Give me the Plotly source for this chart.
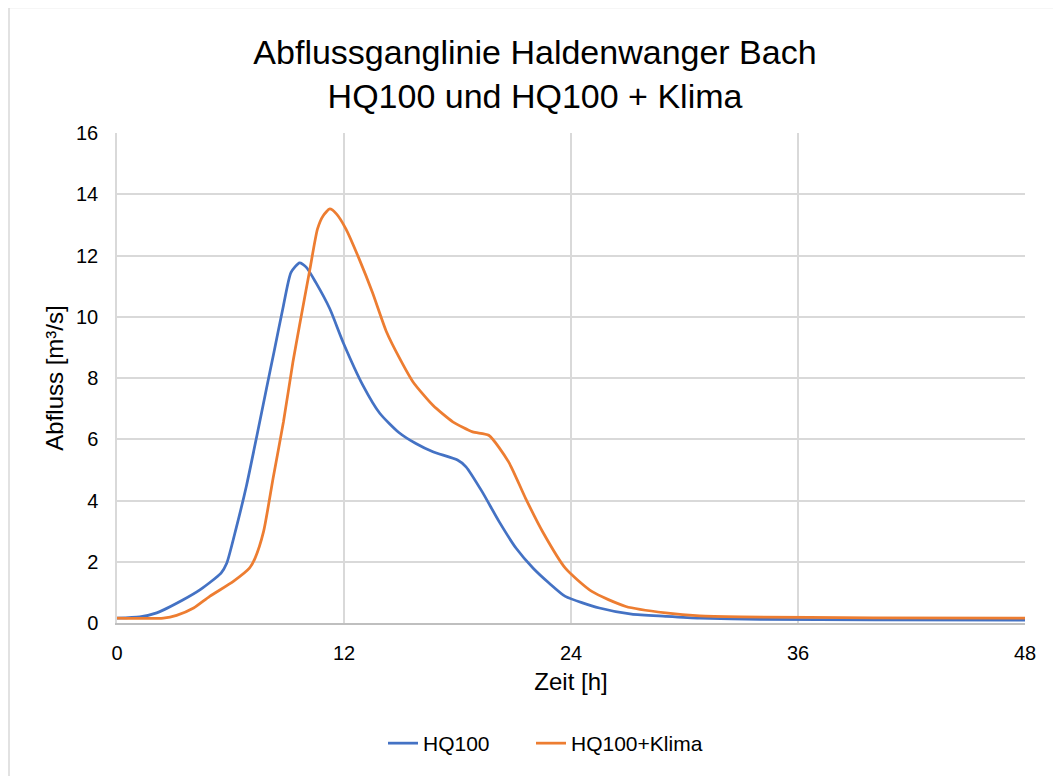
import plotly.graph_objects as go

# HQ100
t_hq = [0, 1.2, 2.1, 3.5, 4.4, 5.5, 5.8, 6.3, 6.85, 7.4, 7.9, 8.3, 8.8, 9.2, 9.65, 10.0, 10.5,
        11.25, 11.95, 13.0, 13.9, 14.9, 15.8, 16.7, 18.0, 18.45, 19.3, 20.2, 21.1, 22.0, 22.85,
        23.7, 25.5, 27.2, 29.0, 30.8, 34.0, 40.0, 48.0]
q_hq = [0.16, 0.2, 0.33, 0.76, 1.09, 1.63, 1.95, 3.1, 4.5, 6.13, 7.65, 8.85, 10.37, 11.45, 11.76,
        11.62, 11.13, 10.26, 9.17, 7.76, 6.84, 6.22, 5.86, 5.59, 5.32, 5.1, 4.29, 3.31, 2.44, 1.79,
        1.3, 0.87, 0.49, 0.29, 0.22, 0.16, 0.12, 0.1, 0.09]

# HQ100 + Klima
t_kl = [0, 2.45, 3.15, 4.05, 4.9, 6.15, 7.0, 7.3, 7.75, 8.25, 8.8, 9.3, 9.65, 10.2, 10.6, 10.9,
        11.25, 11.6, 12.1, 12.8, 13.5, 14.25, 14.95, 15.65, 16.7, 17.75, 18.8, 19.65, 20.7, 21.6,
        22.5, 23.7, 25.1, 26.9, 29.0, 30.8, 33.0, 40.0, 48.0]
q_kl = [0.16, 0.16, 0.25, 0.49, 0.87, 1.36, 1.79, 2.12, 2.99, 4.72, 6.57, 8.52, 9.72, 11.56, 12.87,
        13.3, 13.52, 13.36, 12.87, 11.89, 10.8, 9.5, 8.63, 7.87, 7.11, 6.57, 6.24, 6.13, 5.26, 4.07,
        2.98, 1.79, 1.03, 0.54, 0.33, 0.23, 0.2, 0.17, 0.16]

x_ticks = [0, 12, 24, 36, 48]
y_ticks = [0, 2, 4, 6, 8, 10, 12, 14, 16]

FONT = "Liberation Sans, Arial, sans-serif"
TXT = "#000000"

fig = go.Figure()
fig.add_trace(go.Scatter(x=t_hq, y=q_hq, mode="lines", name="HQ100", legend="legend",
                         line=dict(color="#4472C4", width=2.75, shape="spline", smoothing=0.6)))
fig.add_trace(go.Scatter(x=t_kl, y=q_kl, mode="lines", name="HQ100+Klima", legend="legend2",
                         line=dict(color="#ED7D31", width=2.75, shape="spline", smoothing=0.6)))

legend_common = dict(orientation="h", xanchor="left", y=(625 - 746) / 492, yanchor="middle",
                     font=dict(size=21, color=TXT, family=FONT), bgcolor="rgba(0,0,0,0)")

# page body adds an 8px offset; figure is sized so the plot lands at screen 117..1025 x 133..625
W, H = 1053, 768
fig.update_layout(
    width=W, height=H,
    margin=dict(l=109, r=36, t=125, b=151),
    paper_bgcolor="white", plot_bgcolor="white",
    font=dict(family=FONT, color=TXT),
    title=dict(text="Abflussganglinie Haldenwanger Bach<br>HQ100 und HQ100 + Klima",
               x=(535 - 8) / W, xanchor="center", xref="container",
               y=1 - (64 - 8) / H, yanchor="middle", yref="container",
               font=dict(size=34, color=TXT, family=FONT)),
    showlegend=True,
    legend=dict(x=(383 - 117) / 908, **legend_common),
    legend2=dict(x=(531 - 117) / 908, **legend_common),
    xaxis=dict(range=[0, 48], tickvals=x_ticks, ticktext=[str(v) for v in x_ticks],
               showgrid=True, gridcolor="#d9d9d9", gridwidth=1.5,
               showline=True, linecolor="#bfbfbf", linewidth=1.5,
               zeroline=False, ticks="", ticklabelstandoff=11,
               tickfont=dict(size=20, color=TXT, family=FONT),
               title=dict(text="Zeit [h]", font=dict(size=24, color=TXT, family=FONT),
                          standoff=10)),
    yaxis=dict(range=[0, 16], tickvals=y_ticks, ticktext=[str(v) for v in y_ticks],
               showgrid=True, gridcolor="#d9d9d9", gridwidth=1.5,
               showline=True, linecolor="#d9d9d9", linewidth=1.5,
               zeroline=False, ticks="", ticklabelstandoff=13,
               tickfont=dict(size=20, color=TXT, family=FONT),
               title=dict(text="Abfluss [m³/s]", font=dict(size=24, color=TXT, family=FONT),
                          standoff=6)),
)

# outer chart frame (left and top edges visible in the picture)
fig.add_shape(type="rect", xref="paper", yref="paper",
              x0=(9 - 117) / 908, x1=(1090 - 117) / 908,
              y0=(625 - 800) / 492, y1=(625 - 7) / 492,
              line=dict(color="#d9d9d9", width=1.5), layer="below")

fig.write_html("out.html")
